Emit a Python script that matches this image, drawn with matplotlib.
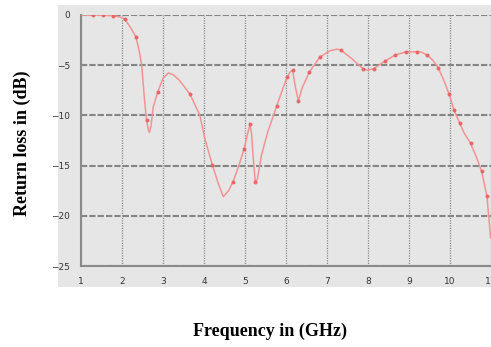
import matplotlib.pyplot as plt
from matplotlib.patches import Rectangle

# curve (GHz, dB)
freq = [1.0, 1.3, 1.54, 1.78, 1.95, 2.07, 2.2, 2.34, 2.42, 2.48, 2.55, 2.6, 2.64,
        2.67, 2.71, 2.76, 2.87, 3.0, 3.13, 3.25, 3.4, 3.66, 3.9, 4.02, 4.2,
        4.35, 4.47, 4.6, 4.71, 4.85, 4.98, 5.06, 5.12, 5.16, 5.2, 5.25, 5.3,
        5.4, 5.55, 5.77, 5.9, 6.03, 6.1, 6.16, 6.23, 6.3, 6.4, 6.57, 6.83,
        7.07, 7.24, 7.34, 7.6, 7.87, 7.98, 8.15, 8.41, 8.66, 8.92, 9.19, 9.3,
        9.45, 9.58, 9.71, 9.85, 9.98, 10.1, 10.24, 10.35, 10.5, 10.65, 10.77,
        10.9, 10.99]
return_loss = [0.0, 0.0, -0.03, -0.07, -0.2, -0.43, -1.2, -2.17, -3.6, -5.0,
               -8.5, -10.5, -11.4, -11.7, -11.0, -9.2, -7.67, -6.3, -5.77, -5.95,
               -6.5, -7.9, -10.0, -12.3, -14.9, -16.8, -18.1, -17.5, -16.6,
               -15.0, -13.3, -11.9, -10.9, -11.8, -14.2, -16.6, -16.4, -14.0,
               -11.7, -9.1, -7.6, -6.17, -5.67, -5.5, -7.2, -8.57, -7.2, -5.67,
               -4.17, -3.57, -3.4, -3.5, -4.33, -5.33, -5.5, -5.33, -4.6, -4.0,
               -3.67, -3.67, -3.7, -4.0, -4.5, -5.23, -6.5, -7.9, -9.5, -10.8,
               -11.8, -12.77, -14.2, -15.57, -18.0, -22.2]

# dots drawn on the curve
mark_freq = [1.3, 1.54, 1.78, 2.07, 2.34, 2.6, 2.87, 3.66, 4.2, 4.71, 4.98, 5.12,
             5.25, 5.77, 6.03, 6.16, 6.3, 6.57, 6.83, 7.34, 7.87, 8.15, 8.41,
             8.66, 8.92, 9.19, 9.45, 9.71, 9.98, 10.1, 10.24, 10.5, 10.77, 10.9]
mark_rl = [0.0, -0.03, -0.07, -0.43, -2.17, -10.5, -7.67, -7.9, -14.9, -16.6,
           -13.3, -10.9, -16.6, -9.1, -6.17, -5.5, -8.57, -5.67, -4.17, -3.5,
           -5.33, -5.33, -4.6, -4.0, -3.67, -3.67, -4.0, -5.23, -7.9, -9.5,
           -10.8, -12.77, -15.57, -18.0]

x_ticks = list(range(1, 12))
y_ticks = [0, -5, -10, -15, -20, -25]

fig = plt.figure(figsize=(4.91, 3.47), dpi=100)
# grey panel behind the plot and its tick labels
fig.patches.append(Rectangle((58 / 491, 1 - 287 / 347), 433 / 491, 282 / 347,
                             transform=fig.transFigure, facecolor='#e6e6e6',
                             edgecolor='none', zorder=-5))

ax = fig.add_axes([81 / 491, 1 - 266 / 347, 410 / 491, 251 / 347])
ax.set_facecolor('#e6e6e6')
ax.plot(freq, return_loss, color='#f29393', lw=1.1, zorder=3)
ax.plot(mark_freq, mark_rl, ls='none', marker='o', ms=1.9, color='#e86060',
        alpha=0.85, zorder=4)

ax.set_xlim(1, 11)
ax.set_ylim(-25, 0)
ax.set_xticks(x_ticks)
ax.set_yticks(y_ticks)
ax.tick_params(length=0, labelsize=6.5, colors='#333333', pad=8)
ax.grid(True, axis='x', color='#8c8c8c', ls=(0, (1, 1)), lw=0.9)
ax.grid(True, axis='y', color='#858585', ls=(0, (3, 1)), lw=1.5)
for side in ['top', 'right']:
    ax.spines[side].set_visible(False)
for side in ['left', 'bottom']:
    ax.spines[side].set_color('#8a8a8a')
    ax.spines[side].set_linewidth(1.5)

fig.text(22 / 491, 1 - 143 / 347, 'Return loss in (dB)', rotation=90,
         ha='center', va='center', family='Liberation Serif', weight='bold',
         fontsize=13)
fig.text(270 / 491, 1 - 331 / 347, 'Frequency in (GHz)', ha='center',
         va='center', family='Liberation Serif', weight='bold', fontsize=13)

fig.savefig('out.png', dpi=100)
